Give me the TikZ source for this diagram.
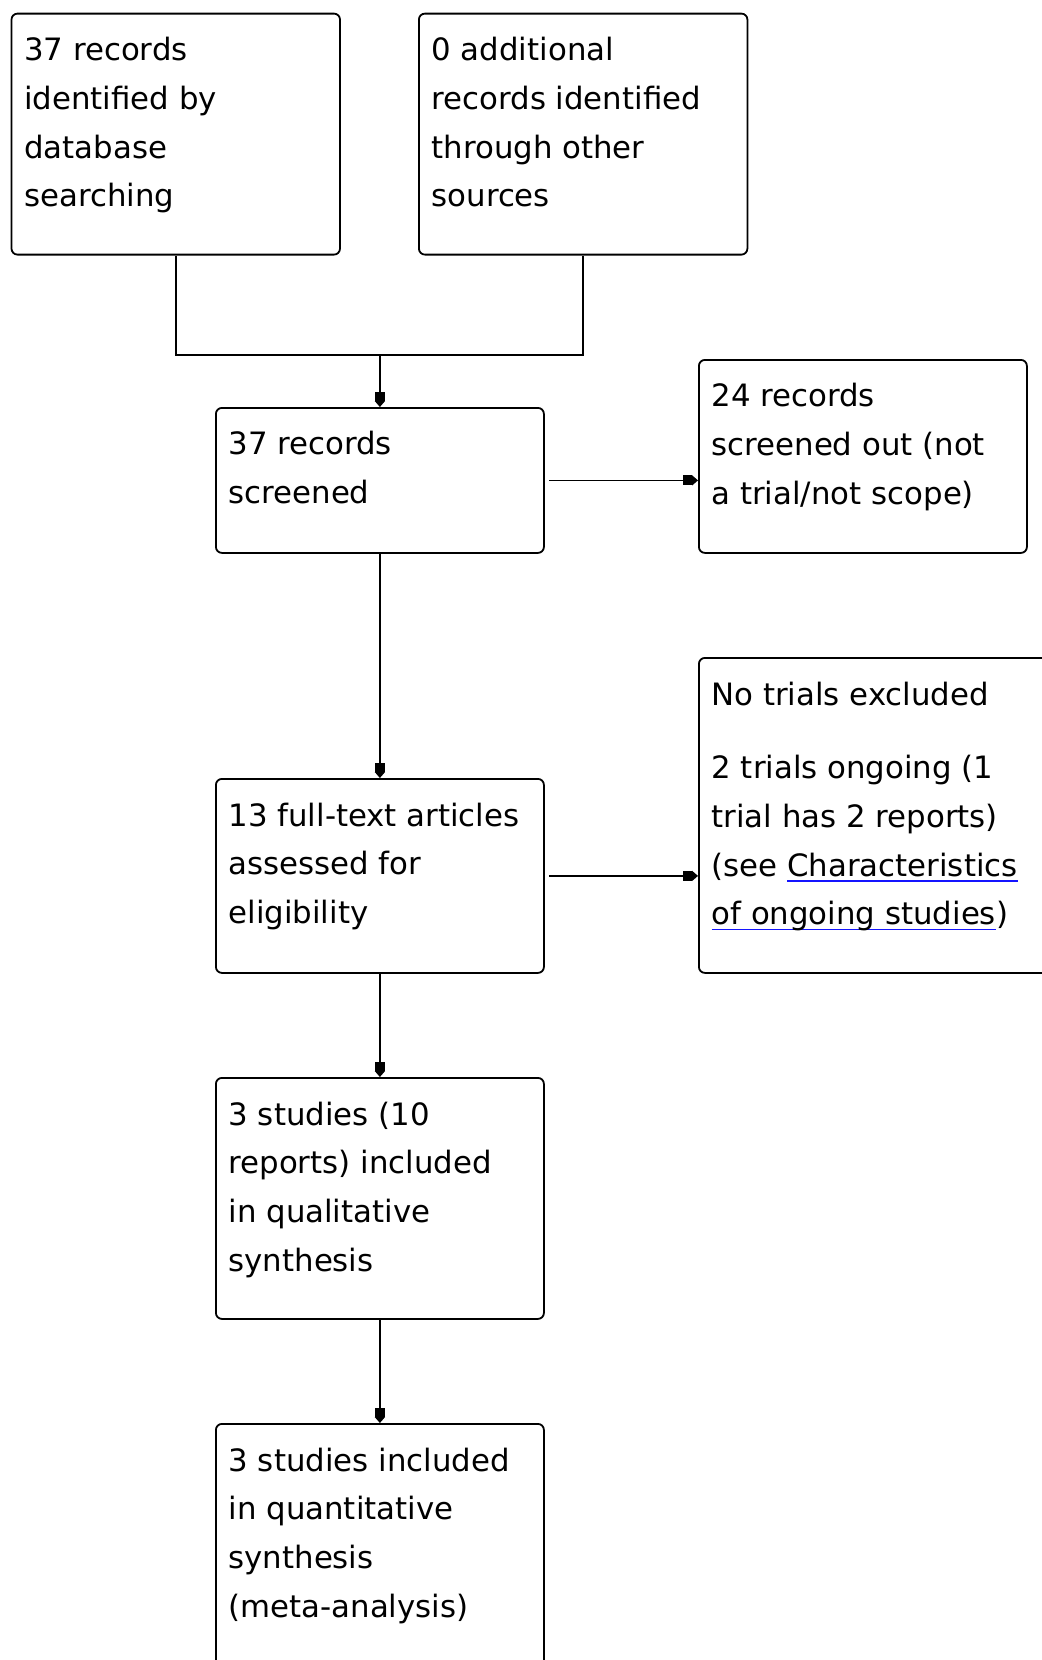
\documentclass[tikz,border=0pt]{standalone}
\usepackage{fontspec}
\setmainfont{DejaVu Sans}
\usetikzlibrary{arrows.meta}

\definecolor{linkblue}{RGB}{20,20,255}
% box text: width and height of the box in px, then the lines
\newcommand{\boxtext}[3]{\parbox[t][\dimexpr #2pt/2-13pt\relax][t]{\dimexpr #1pt/2-12.7pt\relax}{\raggedright\strut #3}}
\newsavebox{\linkbox}
\newcommand{\linktext}[1]{\sbox{\linkbox}{#1}\textcolor{linkblue}{\rlap{\rule[-2.8pt]{\wd\linkbox}{0.75pt}}\usebox{\linkbox}}}

\tikzset{
  flowbox/.style={draw, rounded corners=3pt, anchor=north west, line width=0.9pt,
    inner xsep=6.35pt, inner ysep=6.5pt, font=\fontsize{15.4pt}{24.35pt}\selectfont},
  joinline/.style={line width=0.9pt},
  flowarrow/.style={line width=0.9pt, -{Rectangle[length=4.5pt,width=5pt]Triangle[length=3pt,width=5pt]}}
}

\begin{document}
\begin{tikzpicture}[x=0.5pt,y=-0.5pt]

\useasboundingbox (0,0) rectangle (1041,1660);

\node[flowbox] (ident) at (10.6,12.7) {\boxtext{328.5}{241}{37 records\\identified by\\database\\searching}};
\node[flowbox] (other) at (418,12.7) {\boxtext{328.5}{241}{0 additional\\records identified\\through other\\sources}};

\node[flowbox] (screened) at (215,407) {\boxtext{328}{145}{37 records\\screened}};
\node[flowbox] (out) at (698,359) {\boxtext{328}{193}{24 records\\screened out (not\\a trial/not scope)}};

\node[flowbox] (fulltext) at (215,778) {\boxtext{328}{194}{13 full-text articles\\assessed for\\eligibility}};
\node[flowbox] (ongoing) at (698,657) {\boxtext{370}{315}{No trials excluded\\[12.5pt]2 trials ongoing (1\\trial has 2 reports)\\(see \linktext{Characteristics}\\\linktext{of ongoing studies})}};

\node[flowbox] (quali) at (215,1077) {\boxtext{328}{241}{3 studies (10\\reports) included\\in qualitative\\synthesis}};
\node[flowbox] (quanti) at (215,1423) {\boxtext{328}{262}{3 studies included\\in quantitative\\synthesis\\(meta-analysis)}};

\coordinate (join) at (screened.north |- 0,355);

\draw[joinline] (ident.south) |- (join);
\draw[joinline] (other.south) |- (join);
\draw[flowarrow] (join) -- (screened.north);

\draw[flowarrow, shorten <=2.2pt] (screened.east) -- (screened.east -| out.west);
\draw[flowarrow] (screened.south) -- (fulltext.north);
\draw[flowarrow, shorten <=2.2pt] (fulltext.east) -- (fulltext.east -| ongoing.west);
\draw[flowarrow] (fulltext.south) -- (quali.north);
\draw[flowarrow] (quali.south) -- (quanti.north);

\end{tikzpicture}
\end{document}
